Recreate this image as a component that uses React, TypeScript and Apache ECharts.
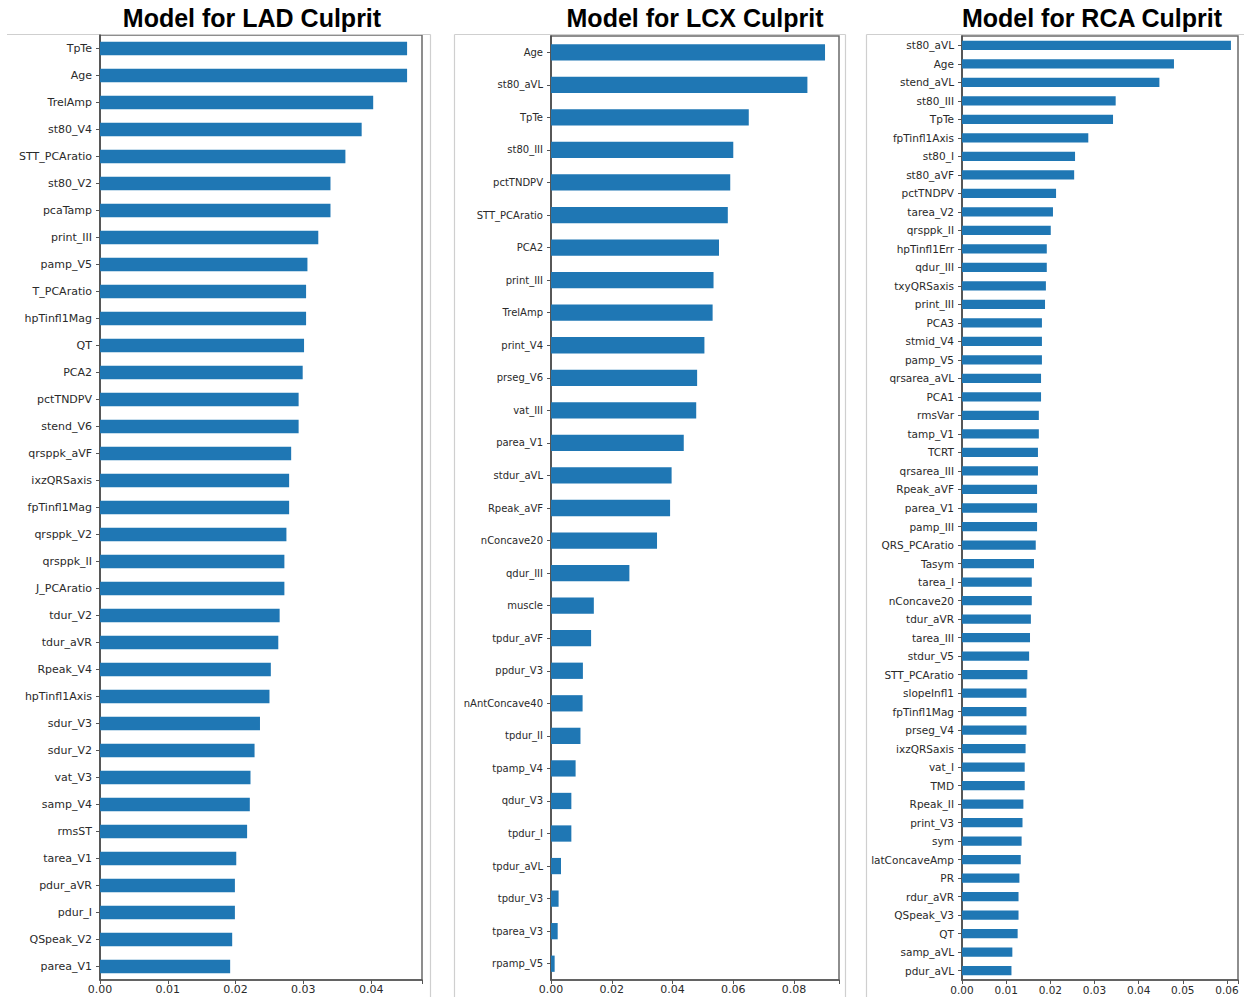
import React, { useEffect, useRef } from "react";
import * as echarts from "echarts";

const ladNames = ["TpTe","Age","TrelAmp","st80_V4","STT_PCAratio","st80_V2","pcaTamp","print_III","pamp_V5","T_PCAratio","hpTinfl1Mag","QT","PCA2","pctTNDPV","stend_V6","qrsppk_aVF","ixzQRSaxis","fpTinfl1Mag","qrsppk_V2","qrsppk_II","J_PCAratio","tdur_V2","tdur_aVR","Rpeak_V4","hpTinfl1Axis","sdur_V3","sdur_V2","vat_V3","samp_V4","rmsST","tarea_V1","pdur_aVR","pdur_I","QSpeak_V2","parea_V1"];
const ladValues = [0.0453,0.0453,0.0403,0.0386,0.0362,0.0340,0.0340,0.0322,0.0306,0.0304,0.0304,0.0301,0.0299,0.0293,0.0293,0.0282,0.0279,0.0279,0.0275,0.0272,0.0272,0.0265,0.0263,0.0252,0.0250,0.0236,0.0228,0.0222,0.0221,0.0217,0.0201,0.0199,0.0199,0.0195,0.0192];

const lcxNames = ["Age","st80_aVL","TpTe","st80_III","pctTNDPV","STT_PCAratio","PCA2","print_III","TrelAmp","print_V4","prseg_V6","vat_III","parea_V1","stdur_aVL","Rpeak_aVF","nConcave20","qdur_III","muscle","tpdur_aVF","ppdur_V3","nAntConcave40","tpdur_II","tpamp_V4","qdur_V3","tpdur_I","tpdur_aVL","tpdur_V3","tparea_V3","rpamp_V5"];
const lcxValues = [0.0902,0.0844,0.0651,0.0600,0.0590,0.0582,0.0553,0.0535,0.0532,0.0505,0.0481,0.0478,0.0437,0.0397,0.0392,0.0349,0.0258,0.0141,0.0132,0.0105,0.0104,0.0097,0.0081,0.0067,0.0067,0.0033,0.0025,0.0022,0.0012];

const rcaNames = ["st80_aVL","Age","stend_aVL","st80_III","TpTe","fpTinfl1Axis","st80_I","st80_aVF","pctTNDPV","tarea_V2","qrsppk_II","hpTinfl1Err","qdur_III","txyQRSaxis","print_III","PCA3","stmid_V4","pamp_V5","qrsarea_aVL","PCA1","rmsVar","tamp_V1","TCRT","qrsarea_III","Rpeak_aVF","parea_V1","pamp_III","QRS_PCAratio","Tasym","tarea_I","nConcave20","tdur_aVR","tarea_III","stdur_V5","STT_PCAratio","slopeInfl1","fpTinfl1Mag","prseg_V4","ixzQRSaxis","vat_I","TMD","Rpeak_II","print_V3","sym","latConcaveAmp","PR","rdur_aVR","QSpeak_V3","QT","samp_aVL","pdur_aVL"];
const rcaValues = [0.0609,0.0480,0.0447,0.0348,0.0342,0.0286,0.0256,0.0254,0.0213,0.0206,0.0201,0.0192,0.0192,0.0190,0.0188,0.0181,0.0181,0.0181,0.0179,0.0179,0.0174,0.0174,0.0172,0.0172,0.0170,0.0170,0.0170,0.0167,0.0163,0.0158,0.0158,0.0156,0.0154,0.0152,0.0148,0.0146,0.0146,0.0146,0.0144,0.0142,0.0142,0.0139,0.0137,0.0135,0.0133,0.0130,0.0128,0.0128,0.0126,0.0114,0.0112];

const titles = ["Model for LAD Culprit", "Model for LCX Culprit", "Model for RCA Culprit"];
const axisMax = [0.0475, 0.0948, 0.0625];
const axisStep = [0.01, 0.02, 0.01];

export default function App() {
  const ref = useRef<HTMLDivElement>(null);
  useEffect(() => {
    if (!ref.current) return;
    const chart = echarts.init(ref.current, undefined, { renderer: "svg" });
    const panels = [
      { names: ladNames, values: ladValues, grid: { left: 100, top: 35, width: 322, height: 945 }, tx: 252, yFont: 11, xFont: 11 },
      { names: lcxNames, values: lcxValues, grid: { left: 551, top: 36, width: 288, height: 944 }, tx: 695, yFont: 10, xFont: 11 },
      { names: rcaNames, values: rcaValues, grid: { left: 962, top: 36, width: 276, height: 944 }, tx: 1092, yFont: 10.5, xFont: 10.5 },
    ];
    const font = "DejaVu Sans";
    const lineCol = "#cfcfcf";
    const line = (x1: number, y1: number, x2: number, y2: number) => ({
      type: "line",
      shape: { x1, y1, x2, y2 },
      style: { stroke: lineCol, lineWidth: 1.2 },
      silent: true,
    });
    chart.setOption({
      animation: false,
      backgroundColor: "#ffffff",
      grid: panels.map((p) => ({
        ...p.grid,
        show: true,
        borderColor: "#6a6a6a",
        borderWidth: 1.5,
        backgroundColor: "transparent",
      })),
      xAxis: panels.map((p, i) => ({
        type: "value",
        gridIndex: i,
        min: 0,
        max: axisMax[i],
        interval: axisStep[i],
        splitLine: { show: false },
        axisLine: { show: true, lineStyle: { color: "#555", width: 1.5 } },
        axisTick: { show: true, length: 4, lineStyle: { color: "#555" } },
        axisLabel: {
          fontSize: p.xFont,
          fontFamily: font,
          color: "#2a2a2a",
          margin: 4,
          formatter: (v: number) => {
            const k = v / axisStep[i];
            return Math.abs(k - Math.round(k)) < 1e-6 ? v.toFixed(2) : "";
          },
        },
      })),
      yAxis: panels.map((p, i) => ({
        type: "category",
        gridIndex: i,
        data: p.names,
        inverse: true,
        axisLine: { show: true, lineStyle: { color: "#444", width: 1.5 } },
        axisTick: { show: true, length: 4, alignWithLabel: true, lineStyle: { color: "#555" } },
        axisLabel: { fontSize: p.yFont, fontFamily: font, color: "#2a2a2a", margin: 8, interval: 0 },
      })),
      series: panels.map((p, i) => ({
        type: "bar",
        xAxisIndex: i,
        yAxisIndex: i,
        data: p.values,
        barWidth: "50%",
        itemStyle: { color: "#1f77b4" },
      })),
      graphic: [
        ...panels.map((p, i) => ({
          type: "text",
          x: p.tx,
          y: 18,
          style: {
            text: titles[i],
            fontSize: 25,
            fontWeight: "bold",
            fontFamily: "Liberation Sans, Arial, sans-serif",
            fill: "#000",
            align: "center",
            verticalAlign: "middle",
          },
        })),
        line(7, 34.5, 430.5, 34.5),
        line(430.5, 34.5, 430.5, 997),
        line(454.5, 34.5, 845.5, 34.5),
        line(454.5, 34.5, 454.5, 997),
        line(845.5, 34.5, 845.5, 997),
        line(866.5, 34.5, 1244, 34.5),
        line(866.5, 34.5, 866.5, 997),
      ],
    });
    return () => chart.dispose();
  }, []);
  return (
    <div
      ref={ref}
      style={{ position: "absolute", left: 0, top: 0, width: 1244, height: 997 }}
    />
  );
}
